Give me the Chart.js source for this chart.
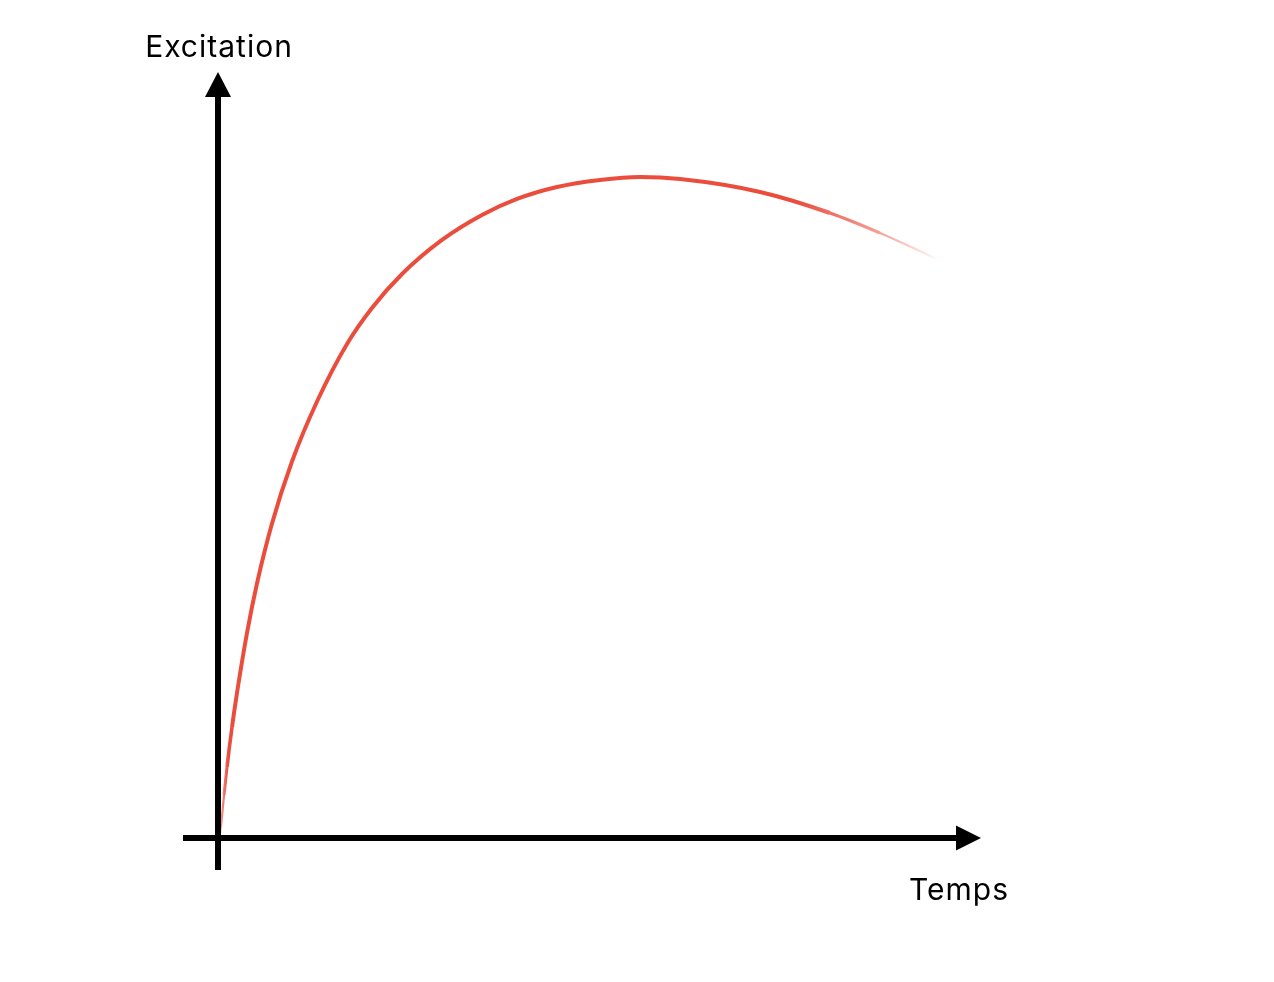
<!DOCTYPE html>
<html>
<head>
<meta charset="utf-8">
<script src="https://cdn.jsdelivr.net/npm/chart.js@4.4.1/dist/chart.umd.min.js"></script>
<style>
  html, body { margin: 0; padding: 0; background: #fff; }
  #wrap { width: 1274px; height: 982px; }
</style>
</head>
<body>
<div id="wrap"><canvas id="chart" width="1274" height="982"></canvas></div>
<script>
// Curve (time 0..100, excitation 0..100)
const timeValues = [0.39, 0.52, 0.92, 1.31, 1.97, 2.62, 3.93, 5.24, 7.21, 9.83, 13.11, 17.04, 20.31, 24.25, 29.49, 34.73, 39.32, 44.56, 50.2, 55.44, 60.68, 71.17, 80.34, 86.89, 94.1];
const excitationValues = [0, 1.31, 5.51, 9.19, 14.44, 18.9, 26.77, 33.27, 41.14, 49.28, 57.15, 64.7, 69.42, 73.88, 78.35, 81.63, 83.73, 85.3, 86.22, 86.61, 86.35, 84.65, 81.89, 79.27, 75.98];
const xLabel = 'Temps';
const yLabel = 'Excitation';

const points = timeValues.map((t, i) => ({ x: t, y: excitationValues[i] }));

// draws the arrowed axes and their labels
const arrowAxes = {
  id: 'arrowAxes',
  afterDraw(chart) {
    const { ctx, scales: { x, y } } = chart;
    const x0 = x.getPixelForValue(0) + 1;
    const y0 = y.getPixelForValue(0) + 1;
    const yTop = y.getPixelForValue(100);
    const xEnd = x.getPixelForValue(100);
    ctx.save();
    ctx.strokeStyle = '#000';
    ctx.fillStyle = '#000';
    ctx.lineWidth = 6;
    ctx.lineCap = 'butt';
    // vertical axis
    ctx.beginPath();
    ctx.moveTo(x0, y0 + 32);
    ctx.lineTo(x0, yTop + 22);
    ctx.stroke();
    ctx.beginPath();
    ctx.moveTo(x0, yTop - 3);
    ctx.lineTo(x0 - 13, yTop + 22);
    ctx.lineTo(x0 + 13, yTop + 22);
    ctx.closePath();
    ctx.fill();
    // horizontal axis
    ctx.beginPath();
    ctx.moveTo(x0 - 35, y0);
    ctx.lineTo(xEnd - 22, y0);
    ctx.stroke();
    ctx.beginPath();
    ctx.moveTo(xEnd + 1, y0);
    ctx.lineTo(xEnd - 24, y0 - 12.5);
    ctx.lineTo(xEnd - 24, y0 + 12.5);
    ctx.closePath();
    ctx.fill();
    // labels
    ctx.font = '30px Inter, "Open Sans", sans-serif';
    ctx.letterSpacing = '1px';
    ctx.textAlign = 'center';
    ctx.textBaseline = 'alphabetic';
    ctx.fillText(yLabel, x0 + 1, yTop - 18);
    ctx.fillText(xLabel, xEnd - 21, y0 + 62);
    ctx.restore();
  }
};

function fadeStroke(context) {
  const chart = context.chart;
  if (!chart.chartArea) return '#EB4D3D';
  const x = chart.scales.x;
  const a = x.getPixelForValue(0);
  const b = x.getPixelForValue(95);
  const g = chart.ctx.createLinearGradient(a, 0, b, 0);
  g.addColorStop(0, 'rgba(235,77,61,0.35)');
  g.addColorStop(0.015, 'rgba(235,77,61,1)');
  g.addColorStop(0.8, 'rgba(235,77,61,1)');
  g.addColorStop(0.91, 'rgba(235,77,61,0.55)');
  g.addColorStop(1, 'rgba(235,77,61,0)');
  return g;
}

const last = points.length - 1;

new Chart(document.getElementById('chart'), {
  type: 'line',
  data: {
    datasets: [{
      data: points,
      borderColor: fadeStroke,
      borderWidth: 4,
      pointRadius: 0,
      cubicInterpolationMode: 'monotone',
      fill: false,
      clip: false,
      segment: {
        borderWidth: ctx => {
          const i = ctx.p0DataIndex;
          if (i === 0) return 1.5;
          if (i === 1) return 2.2;
          if (i === 2) return 3;
          if (i === 3) return 3.6;
          if (i === last - 1) return 2.2;
          if (i === last - 2) return 3.2;
          return 4;
        }
      }
    }]
  },
  options: {
    responsive: false,
    animation: false,
    layout: { padding: { left: 217, right: 294, top: 75, bottom: 145 } },
    scales: {
      x: { type: 'linear', min: 0, max: 100, display: false },
      y: { type: 'linear', min: 0, max: 100, display: false }
    },
    plugins: {
      legend: { display: false },
      tooltip: { enabled: false }
    }
  },
  plugins: [arrowAxes]
});
</script>
</body>
</html>
